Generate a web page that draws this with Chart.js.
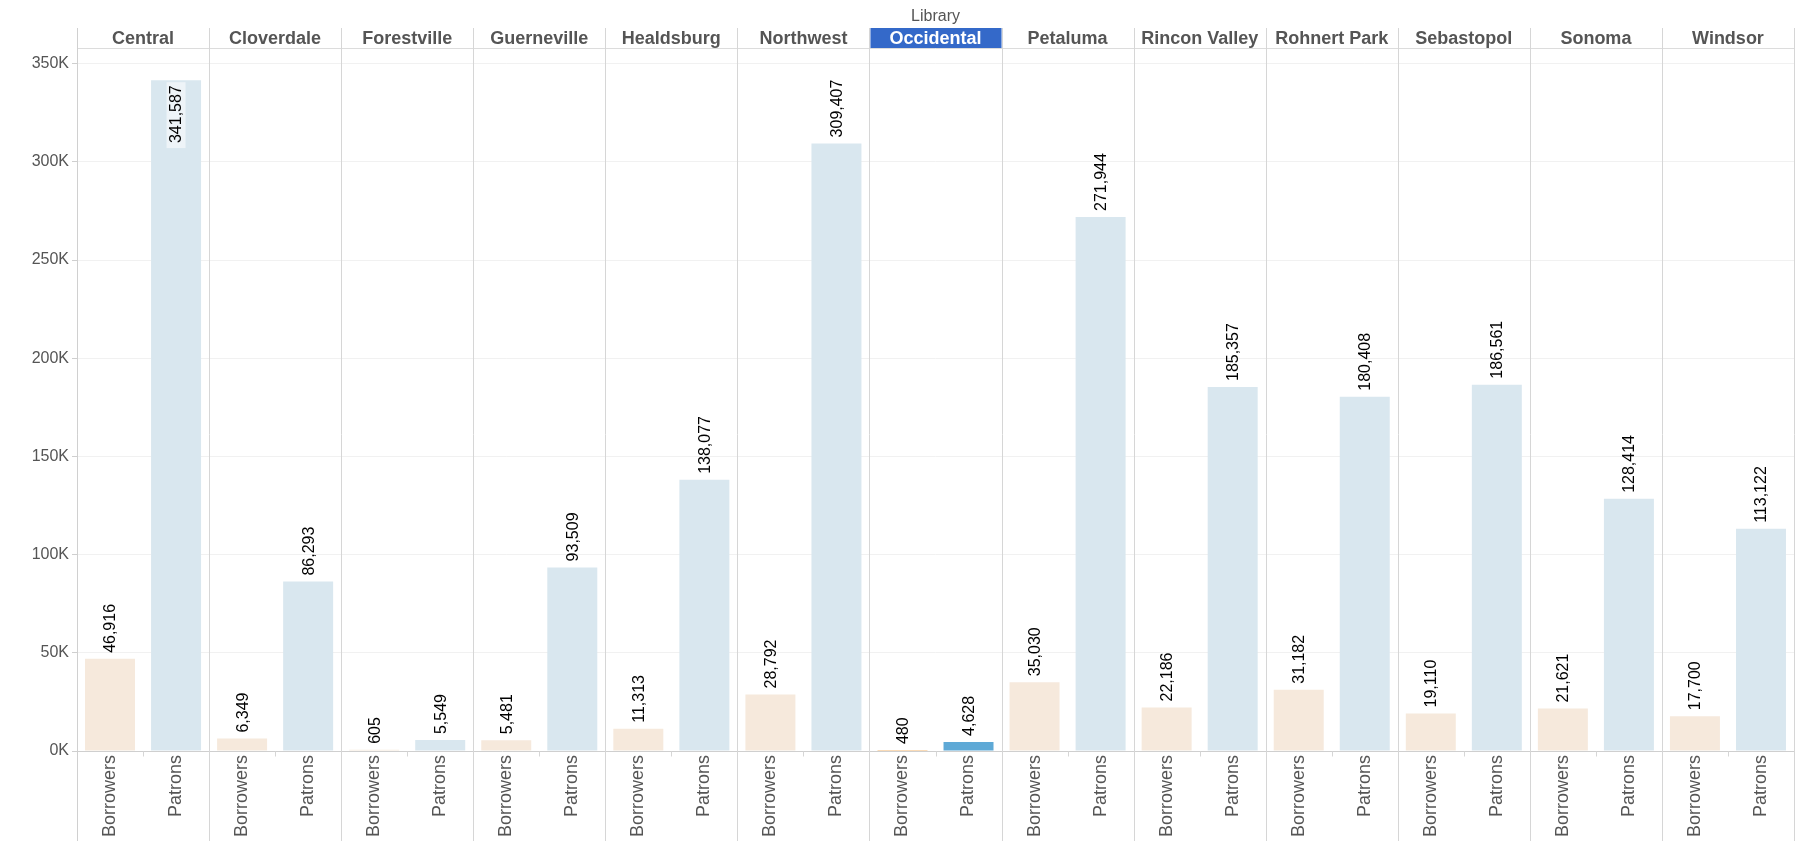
<!DOCTYPE html>
<html>
<head>
<meta charset="utf-8">
<script src="https://cdn.jsdelivr.net/npm/chart.js@4"></script>
<style>
  html, body { margin: 0; padding: 0; background: #fff; }
  #wrap { width: 1818px; height: 841px; }
</style>
</head>
<body>
<div id="wrap"><canvas id="c" width="1818" height="841"></canvas></div>
<script>
const libraries = ['Central','Cloverdale','Forestville','Guerneville','Healdsburg','Northwest','Occidental','Petaluma','Rincon Valley','Rohnert Park','Sebastopol','Sonoma','Windsor'];
const borrowers = [46916, 6349, 605, 5481, 11313, 28792, 480, 35030, 22186, 31182, 19110, 21621, 17700];
const patrons = [341587, 86293, 5549, 93509, 138077, 309407, 4628, 271944, 185357, 180408, 186561, 128414, 113122];
const measures = ['Borrowers', 'Patrons'];
const yTicks = [0, 50000, 100000, 150000, 200000, 250000, 300000, 350000];
const highlighted = 'Occidental';
const columnTitle = 'Library';
const yMax = 358000;

const FONT = "'Liberation Sans', Arial, sans-serif";
const labels = libraries.flatMap(() => measures);
const values = libraries.flatMap((l, i) => [borrowers[i], patrons[i]]);
const libOf = i => libraries[Math.floor(i / 2)];

const colors = {
  Borrowers: { normal: '#f6e9dc', hi: '#f5b870' },
  Patrons: { normal: '#d9e7ef', hi: '#5ea9d6' }
};

const fmt = v => v.toLocaleString('en-US');

const panelPlugin = {
  id: 'panels',
  beforeDraw(chart) {
    const ctx = chart.ctx;
    ctx.save();
    ctx.fillStyle = '#fff';
    ctx.fillRect(0, 0, chart.width, chart.height);
    ctx.restore();
  },
  afterDatasetsDraw(chart) {
    const ctx = chart.ctx;
    const x = chart.scales.x, y = chart.scales.y;
    const ca = chart.chartArea;
    const half = (x.getPixelForValue(1) - x.getPixelForValue(0)) / 2;
    const headerTop = 28;
    ctx.save();
    libraries.forEach((lib, p) => {
      const l = x.getPixelForValue(2 * p) - half;
      const r = x.getPixelForValue(2 * p + 1) + half;
      if (lib === highlighted) {
        ctx.fillStyle = '#3469c9';
        ctx.fillRect(l + 1, headerTop, r - l - 1, ca.top - headerTop);
      }
    });
    ctx.strokeStyle = '#dcdcdc';
    ctx.lineWidth = 1;
    ctx.beginPath();
    ctx.moveTo(ca.left, ca.top + 0.5);
    ctx.lineTo(ca.right, ca.top + 0.5);
    ctx.stroke();
    const y0 = Math.round(y.getPixelForValue(0)) + 0.5;
    ctx.strokeStyle = '#cfcfcf';
    ctx.beginPath();
    ctx.moveTo(ca.left - 5, y0);
    ctx.lineTo(ca.right, y0);
    ctx.stroke();
    ctx.strokeStyle = '#d6d6d6';
    for (let p = 0; p <= libraries.length; p++) {
      const xx = Math.round(x.getPixelForValue(2 * p) - half) + 0.5;
      ctx.beginPath();
      ctx.moveTo(xx, headerTop);
      ctx.lineTo(xx, chart.height);
      ctx.stroke();
    }
    libraries.forEach((lib, p) => {
      const xx = Math.round(x.getPixelForValue(2 * p) + half) + 0.5;
      ctx.beginPath();
      ctx.moveTo(xx, y0);
      ctx.lineTo(xx, y0 + 5);
      ctx.stroke();
    });
    ctx.textAlign = 'center';
    ctx.textBaseline = 'middle';
    libraries.forEach((lib, p) => {
      const cx = (x.getPixelForValue(2 * p) + x.getPixelForValue(2 * p + 1)) / 2;
      ctx.font = 'bold 18px ' + FONT;
      ctx.fillStyle = lib === highlighted ? '#ffffff' : '#555555';
      ctx.fillText(lib, cx, (headerTop + ca.top) / 2 + 1);
      if (lib === highlighted) {
        ctx.font = '16px ' + FONT;
        ctx.fillStyle = '#555555';
        ctx.fillText(columnTitle, cx, 17);
      }
    });
    const meta = chart.getDatasetMeta(0);
    ctx.font = '16px ' + FONT;
    meta.data.forEach((el, i) => {
      const txt = fmt(values[i]);
      const w = ctx.measureText(txt).width;
      const top = el.y;
      ctx.save();
      if (top - 6 - w >= ca.top + 2) {
        ctx.translate(el.x, top - 6);
        ctx.rotate(-Math.PI / 2);
        ctx.textAlign = 'left';
        ctx.textBaseline = 'middle';
        ctx.fillStyle = '#000';
        ctx.fillText(txt, 0, 1);
      } else {
        ctx.translate(el.x, top + 5);
        ctx.rotate(-Math.PI / 2);
        ctx.fillStyle = '#eef4f8';
        ctx.fillRect(-w - 5, -9.5, w + 8, 19);
        ctx.textAlign = 'right';
        ctx.textBaseline = 'middle';
        ctx.fillStyle = '#000';
        ctx.fillText(txt, 0, 1);
      }
      ctx.restore();
    });
    ctx.restore();
  },
  afterDraw(chart) {
    const ctx = chart.ctx;
    const ca = chart.chartArea;
    ctx.save();
    ctx.strokeStyle = '#d0d0d0';
    ctx.lineWidth = 1;
    const xx = Math.round(ca.left) + 0.5;
    ctx.beginPath();
    ctx.moveTo(xx, 28);
    ctx.lineTo(xx, chart.height);
    ctx.stroke();
    ctx.restore();
  }
};

new Chart(document.getElementById('c'), {
  type: 'bar',
  data: {
    labels: labels,
    datasets: [{
      data: values,
      backgroundColor: ctx => {
        const i = ctx.dataIndex;
        const m = labels[i];
        return libOf(i) === highlighted ? colors[m].hi : colors[m].normal;
      },
      barPercentage: 0.757,
      categoryPercentage: 1.0,
      borderWidth: 0
    }]
  },
  options: {
    responsive: false,
    animation: false,
    devicePixelRatio: 1,
    layout: { padding: { left: 0, right: 24, top: 48, bottom: 0 } },
    plugins: { legend: { display: false }, tooltip: { enabled: false } },
    scales: {
      x: {
        type: 'category',
        offset: true,
        grid: { display: false, drawTicks: false },
        border: { display: false },
        ticks: {
          autoSkip: false,
          maxRotation: 90,
          minRotation: 90,
          padding: 4,
          color: '#555555',
          font: { family: FONT, size: 18 }
        },
        afterFit: s => { s.height = 90; }
      },
      y: {
        type: 'linear',
        min: 0,
        max: yMax,
        border: { display: false },
        grid: {
          color: c => (c.tick && c.tick.value === 0) ? 'rgba(0,0,0,0)' : '#f1f1f1',
          tickColor: '#cfcfcf',
          tickLength: 5,
          drawTicks: true
        },
        ticks: {
          autoSkip: false,
          padding: 3,
          color: '#555555',
          font: { family: FONT, size: 16 },
          callback: v => (v / 1000) + 'K'
        },
        afterBuildTicks: s => { s.ticks = yTicks.map(v => ({ value: v })); },
        afterFit: s => { s.width = 77; }
      }
    }
  },
  plugins: [panelPlugin]
});
</script>
</body>
</html>
